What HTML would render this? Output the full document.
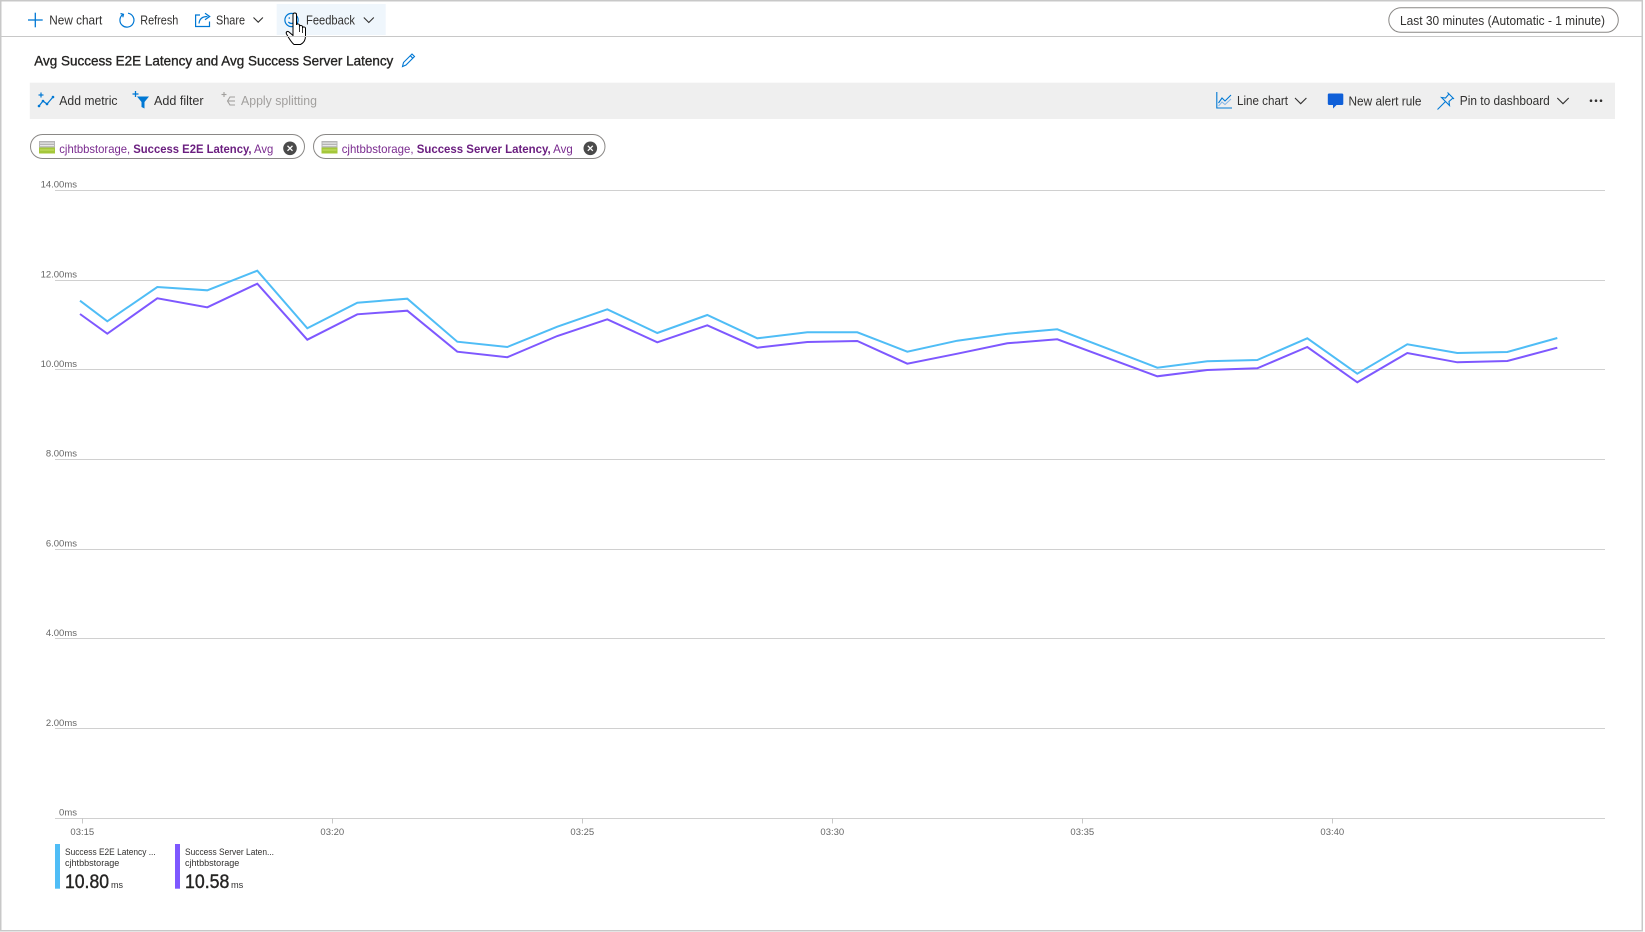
<!DOCTYPE html>
<html>
<head>
<meta charset="utf-8">
<style>
html,body{margin:0;padding:0;background:#fff;}
svg{display:block;}
text{font-family:"Liberation Sans",sans-serif;}
</style>
</head>
<body>
<svg width="1645" height="932" viewBox="0 0 1645 932" xmlns="http://www.w3.org/2000/svg">
  <rect x="0" y="0" width="1645" height="932" fill="#fff"/>
  <!-- outer frame -->
  <rect x="0.75" y="0.75" width="1641.5" height="930" fill="none" stroke="#c8c8c8" stroke-width="1.5"/>

  <!-- ===== HEADER ===== -->
  <g stroke="#0078d4" stroke-width="1.3" fill="none">
    <line x1="28" y1="20" x2="42.7" y2="20"/>
    <line x1="35.3" y1="12.7" x2="35.3" y2="27.3"/>
  </g>
  <text x="49.3" y="24.5" font-size="12.5" fill="#323130" textLength="53" lengthAdjust="spacingAndGlyphs">New chart</text>
  <g stroke="#0078d4" stroke-width="1.2" fill="none">
    <path d="M 123.2 14.2 A 7 7 0 1 0 128 13.2"/>
    <path d="M 120.5 13.5 L 123.5 14.3 L 122.8 17.3"/>
  </g>
  <text x="140.3" y="24.5" font-size="12.5" fill="#323130" textLength="38" lengthAdjust="spacingAndGlyphs">Refresh</text>
  <g stroke="#0078d4" stroke-width="1.2" fill="none">
    <path d="M 200 15 L 195.6 15 L 195.6 26.5 L 209.5 26.5 L 209.5 21.5"/>
    <path d="M 199 23.5 C 199.5 18.5 203 16.5 207.5 16.5"/>
    <path d="M 205 13.2 L 209.7 16.5 L 205 19.8"/>
  </g>
  <text x="216" y="24.5" font-size="12.5" fill="#323130" textLength="29" lengthAdjust="spacingAndGlyphs">Share</text>
  <path d="M 253.5 17.5 L 258.2 22.2 L 262.9 17.5" stroke="#323130" stroke-width="1.1" fill="none"/>
  <rect x="276.7" y="4" width="109" height="31" fill="#eff6fc"/>
  <g stroke="#0078d4" stroke-width="1.2" fill="none">
    <circle cx="291.5" cy="20" r="6.6"/>
    <path d="M 288.3 22 Q 291.5 25 294.7 22"/>
  </g>
  <circle cx="289.3" cy="18" r="0.8" fill="#0078d4"/>
  <circle cx="293.7" cy="18" r="0.8" fill="#0078d4"/>
  <text x="306" y="24.5" font-size="12.5" fill="#323130" textLength="49" lengthAdjust="spacingAndGlyphs">Feedback</text>
  <path d="M 363.8 17.5 L 368.8 22.5 L 373.8 17.5" stroke="#323130" stroke-width="1.1" fill="none"/>
  <!-- hand cursor -->
  <path d="M 293 14.5 C 293 12.5 296.5 12.5 296.5 14.5 L 296.5 25 C 296.5 23.5 299.5 23.5 299.5 25.5 L 299.5 26.5 C 299.5 25 302.5 25 302.5 27 L 302.5 28 C 302.5 26.5 305.5 26.5 305.5 28.5 L 305.5 36 C 305.5 40 303.5 43 300.5 44.5 L 294 44.5 C 291.5 42.5 289 38.5 286.5 34 C 285.5 32 287.5 30.5 289 32 L 293 35.5 Z" fill="#fff" stroke="#000" stroke-width="1"/>
  <line x1="299.5" y1="26.5" x2="299.5" y2="32" stroke="#000" stroke-width="0.8"/>
  <line x1="302.5" y1="28" x2="302.5" y2="33" stroke="#000" stroke-width="0.8"/>

  <rect x="1388.8" y="7.8" width="229.5" height="24.5" rx="12.25" fill="#fff" stroke="#8a8886" stroke-width="1"/>
  <text x="1400" y="25" font-size="12.5" fill="#323130" textLength="205" lengthAdjust="spacingAndGlyphs">Last 30 minutes (Automatic - 1 minute)</text>

  <line x1="0" y1="36.5" x2="1643" y2="36.5" stroke="#c8c8c8" stroke-width="1"/>

  <!-- ===== TITLE ===== -->
  <text x="34.3" y="65.5" font-size="14" fill="#252423" stroke="#252423" stroke-width="0.35" textLength="359" lengthAdjust="spacingAndGlyphs">Avg Success E2E Latency and Avg Success Server Latency</text>
  <g stroke="#0078d4" stroke-width="1.1" fill="none">
    <path d="M 402.5 66.5 L 403.5 62.5 L 412 54 L 414.5 56.5 L 406 65 Z"/>
    <line x1="410.3" y1="55.7" x2="412.8" y2="58.2"/>
  </g>

  <!-- ===== TOOLBAR ===== -->
  <rect x="29.8" y="82.7" width="1585.2" height="36.3" fill="#efefef"/>
  <g stroke="#0078d4" stroke-width="1.2" fill="none">
    <path d="M 39 106 L 43 101 L 47 104 L 53 97"/>
    <line x1="41" y1="92.5" x2="41" y2="97.5"/>
    <line x1="38.5" y1="95" x2="43.5" y2="95"/>
  </g>
  <circle cx="39" cy="106" r="1.3" fill="#0078d4"/><circle cx="43" cy="101" r="1.3" fill="#0078d4"/><circle cx="47" cy="104" r="1.3" fill="#0078d4"/><circle cx="53" cy="97" r="1.3" fill="#0078d4"/>
  <text x="59.3" y="105" font-size="12.5" fill="#323130" textLength="58.2" lengthAdjust="spacingAndGlyphs">Add metric</text>
  <g stroke="#0078d4" stroke-width="1.3">
    <line x1="135.5" y1="91" x2="135.5" y2="97"/>
    <line x1="132.5" y1="94" x2="138.5" y2="94"/>
  </g>
  <path d="M 137 96.5 L 149 96.5 L 144.5 102 L 144.5 108.5 L 141.5 107 L 141.5 102 Z" fill="#0078d4"/>
  <text x="154" y="105" font-size="12.5" fill="#323130" textLength="49.6" lengthAdjust="spacingAndGlyphs">Add filter</text>
  <g stroke="#a19f9d" stroke-width="1.1" fill="none">
    <line x1="224" y1="92" x2="224" y2="97"/>
    <line x1="221.5" y1="94.5" x2="226.5" y2="94.5"/>
    <path d="M 235 97 L 230 97 L 227.5 101 L 230 105 L 235 105"/>
    <line x1="227.5" y1="101" x2="235" y2="101"/>
  </g>
  <text x="241" y="105" font-size="12.5" fill="#a19f9d" textLength="76" lengthAdjust="spacingAndGlyphs">Apply splitting</text>
  <g stroke="#0078d4" stroke-width="1.1" fill="none">
    <path d="M 1216.8 92 L 1216.8 108 L 1232 108"/>
    <path d="M 1218.5 103 L 1222 98 L 1225 101 L 1231 95"/>
    <path d="M 1218.5 106 L 1222 102 L 1225 104.5 L 1231 99" stroke="#8ab8e6"/>
  </g>
  <text x="1237" y="105" font-size="12.5" fill="#323130" textLength="51" lengthAdjust="spacingAndGlyphs">Line chart</text>
  <path d="M 1295 98 L 1300.7 103.7 L 1306.4 98" stroke="#323130" stroke-width="1.1" fill="none"/>
  <path d="M 1329 93.5 Q 1327.8 93.5 1327.8 94.8 L 1327.8 103.8 Q 1327.8 105 1329 105 L 1333 105 L 1333 108.5 L 1336.5 105 L 1342 105 Q 1343.3 105 1343.3 103.8 L 1343.3 94.8 Q 1343.3 93.5 1342 93.5 Z" fill="#0f5fd8"/>
  <text x="1348.5" y="105.5" font-size="12.5" fill="#323130" textLength="73" lengthAdjust="spacingAndGlyphs">New alert rule</text>
  <g stroke="#0078d4" stroke-width="1.1" fill="none">
    <path d="M 1447.5 92.5 L 1454 99 M 1449 94 L 1445.5 98 L 1441.5 97.5 L 1449.5 105.5 L 1449 101.5 L 1453 98"/>
    <line x1="1445.5" y1="101.5" x2="1437.5" y2="109.5"/>
  </g>
  <text x="1459.8" y="105" font-size="12.5" fill="#323130" textLength="90" lengthAdjust="spacingAndGlyphs">Pin to dashboard</text>
  <path d="M 1557.3 98 L 1563 103.7 L 1568.7 98" stroke="#323130" stroke-width="1.1" fill="none"/>
  <circle cx="1591" cy="100.7" r="1.3" fill="#323130"/>
  <circle cx="1596" cy="100.7" r="1.3" fill="#323130"/>
  <circle cx="1601" cy="100.7" r="1.3" fill="#323130"/>

  <!-- ===== PILLS ===== -->
  <rect x="30.5" y="134.5" width="274" height="24" rx="12" fill="#fff" stroke="#8a8886" stroke-width="1"/>
  <g>
    <rect x="39" y="141" width="16" height="12.5" fill="#b5b5b5"/>
    <rect x="40" y="142.5" width="14" height="1.2" fill="#e8e8e8"/>
    <rect x="40" y="145" width="14" height="1.2" fill="#e8e8e8"/>
    <rect x="39" y="147.5" width="16" height="6" fill="#a4c73a"/>
    <rect x="40" y="149.5" width="14" height="1" fill="#c8e06a"/>
  </g>
  <text x="59.3" y="153" font-size="12" fill="#7a2b8f" textLength="214" lengthAdjust="spacingAndGlyphs">cjhtbbstorage, <tspan font-weight="bold" fill="#6b1f80">Success E2E Latency,</tspan> Avg</text>
  <circle cx="290" cy="148.3" r="6.8" fill="#4a4a4a"/>
  <g stroke="#fff" stroke-width="1.3"><line x1="287.5" y1="145.8" x2="292.5" y2="150.8"/><line x1="292.5" y1="145.8" x2="287.5" y2="150.8"/></g>

  <rect x="313.5" y="134.5" width="291.5" height="24" rx="12" fill="#fff" stroke="#8a8886" stroke-width="1"/>
  <g>
    <rect x="321.5" y="141" width="16" height="12.5" fill="#b5b5b5"/>
    <rect x="322.5" y="142.5" width="14" height="1.2" fill="#e8e8e8"/>
    <rect x="322.5" y="145" width="14" height="1.2" fill="#e8e8e8"/>
    <rect x="321.5" y="147.5" width="16" height="6" fill="#a4c73a"/>
    <rect x="322.5" y="149.5" width="14" height="1" fill="#c8e06a"/>
  </g>
  <text x="341.7" y="153" font-size="12" fill="#7a2b8f" textLength="231" lengthAdjust="spacingAndGlyphs">cjhtbbstorage, <tspan font-weight="bold" fill="#6b1f80">Success Server Latency,</tspan> Avg</text>
  <circle cx="590.3" cy="148.3" r="6.8" fill="#4a4a4a"/>
  <g stroke="#fff" stroke-width="1.3"><line x1="587.8" y1="145.8" x2="592.8" y2="150.8"/><line x1="592.8" y1="145.8" x2="587.8" y2="150.8"/></g>

  <!-- ===== CHART ===== -->
  <g stroke="#d0d0d0" stroke-width="1">
    <line x1="55" y1="190.5" x2="1605" y2="190.5"/>
    <line x1="55" y1="280.5" x2="1605" y2="280.5"/>
    <line x1="55" y1="369.5" x2="1605" y2="369.5"/>
    <line x1="55" y1="459.5" x2="1605" y2="459.5"/>
    <line x1="55" y1="549.5" x2="1605" y2="549.5"/>
    <line x1="55" y1="638.5" x2="1605" y2="638.5"/>
    <line x1="55" y1="728.5" x2="1605" y2="728.5"/>
    <line x1="55" y1="818.5" x2="1605" y2="818.5"/>
  </g>
  <g font-size="9.5" fill="#666" text-anchor="end">
    <text x="77" y="187.6">14.00ms</text>
    <text x="77" y="277.4">12.00ms</text>
    <text x="77" y="367">10.00ms</text>
    <text x="77" y="456.7">8.00ms</text>
    <text x="77" y="546.4">6.00ms</text>
    <text x="77" y="636.2">4.00ms</text>
    <text x="77" y="725.9">2.00ms</text>
    <text x="77" y="815.6">0ms</text>
  </g>
  <g stroke="#c8c8c8" stroke-width="1">
    <line x1="82.5" y1="818" x2="82.5" y2="823.5"/>
    <line x1="332.5" y1="818" x2="332.5" y2="823.5"/>
    <line x1="582.5" y1="818" x2="582.5" y2="823.5"/>
    <line x1="832.5" y1="818" x2="832.5" y2="823.5"/>
    <line x1="1082.5" y1="818" x2="1082.5" y2="823.5"/>
    <line x1="1332.5" y1="818" x2="1332.5" y2="823.5"/>
  </g>
  <g font-size="9.5" fill="#666" text-anchor="middle">
    <text x="82.3" y="835">03:15</text>
    <text x="332.3" y="835">03:20</text>
    <text x="582.3" y="835">03:25</text>
    <text x="832.3" y="835">03:30</text>
    <text x="1082.3" y="835">03:35</text>
    <text x="1332.3" y="835">03:40</text>
  </g>

  <polyline fill="none" stroke="#4fbdf6" stroke-width="2" stroke-linejoin="miter"
    points="80,300.7 107.3,321.3 157.3,287 207.3,290.3 257.3,270.7 307.3,328.3 357.3,302.7 407.3,298.7 457.3,341.7 507.3,347 557.3,326.7 607.3,309.3 657.3,333 707.3,315 757.3,338.3 807.3,332.3 857.3,332.3 907.3,351.7 957.3,340.7 1007.3,333.7 1057.3,329.3 1157.3,367.7 1207.3,361.3 1257.3,360 1307.3,338.3 1357.3,373.7 1407.3,344.3 1457.3,353 1507.3,352 1557.3,338"/>
  <polyline fill="none" stroke="#7e58ff" stroke-width="2" stroke-linejoin="miter"
    points="80,314 107.3,333.7 157.3,298.3 207.3,307.3 257.3,283.7 307.3,339.7 357.3,314.3 407.3,310.7 457.3,351.7 507.3,357.2 557.3,336 607.3,319.3 657.3,342.3 707.3,325.3 757.3,347.7 807.3,342 857.3,341 907.3,363.7 957.3,353.7 1007.3,343.3 1057.3,339.3 1157.3,376.3 1207.3,370 1257.3,368.3 1307.3,347 1357.3,382.3 1407.3,353 1457.3,362.3 1507.3,361 1557.3,347.7"/>

  <!-- ===== LEGEND ===== -->
  <rect x="55" y="844" width="5" height="44.7" fill="#4fbdf6"/>
  <text x="65" y="855" font-size="9" fill="#323130" textLength="90.7" lengthAdjust="spacingAndGlyphs">Success E2E Latency ...</text>
  <text x="65" y="866" font-size="9" fill="#323130" textLength="54.3" lengthAdjust="spacingAndGlyphs">cjhtbbstorage</text>
  <text x="65" y="888" font-size="19" fill="#252423" stroke="#252423" stroke-width="0.4" textLength="44" lengthAdjust="spacingAndGlyphs">10.80</text>
  <text x="111" y="888" font-size="9" fill="#323130" textLength="12" lengthAdjust="spacingAndGlyphs">ms</text>

  <rect x="175" y="844" width="5" height="44.7" fill="#7e58ff"/>
  <text x="185" y="855" font-size="9" fill="#323130" textLength="89" lengthAdjust="spacingAndGlyphs">Success Server Laten...</text>
  <text x="185" y="866" font-size="9" fill="#323130" textLength="54.3" lengthAdjust="spacingAndGlyphs">cjhtbbstorage</text>
  <text x="185" y="888" font-size="19" fill="#252423" stroke="#252423" stroke-width="0.4" textLength="44.3" lengthAdjust="spacingAndGlyphs">10.58</text>
  <text x="231" y="888" font-size="9" fill="#323130" textLength="12.3" lengthAdjust="spacingAndGlyphs">ms</text>
</svg>
</body>
</html>
